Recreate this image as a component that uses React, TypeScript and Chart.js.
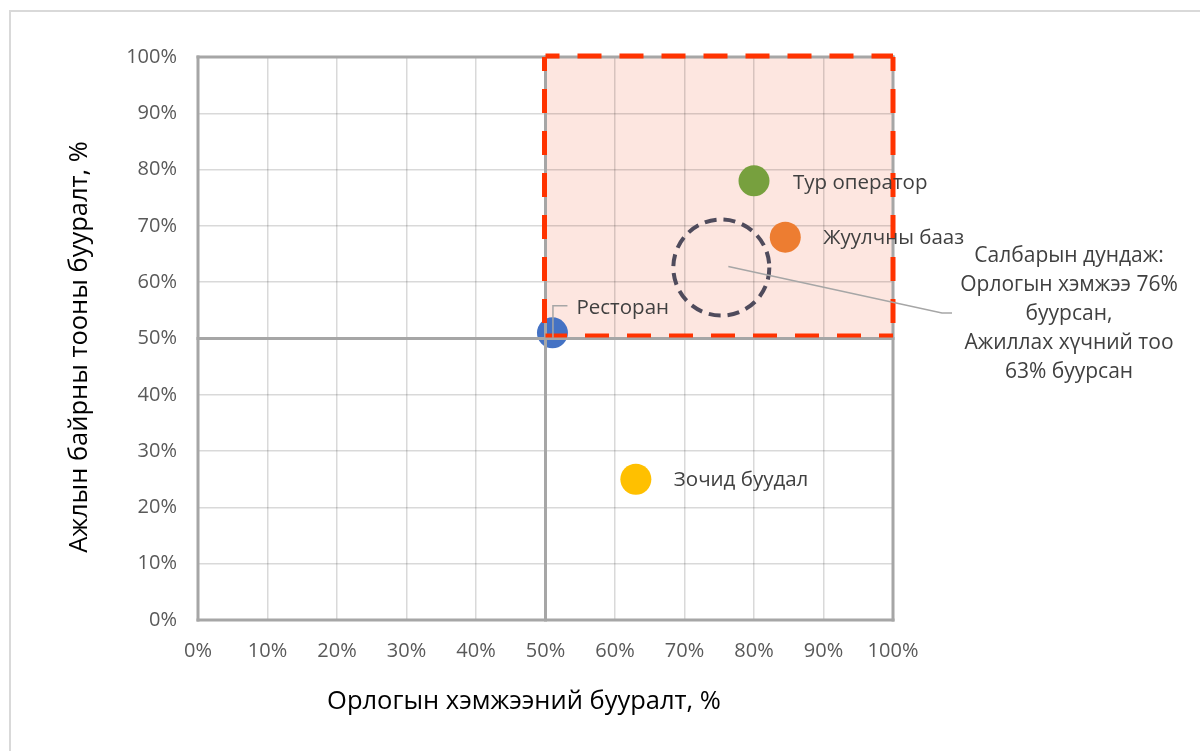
import React, { useEffect, useRef } from 'react';
import { Chart, registerables } from 'chart.js';

Chart.register(...registerables);

// ---- Data ----
const sectors = ['Ресторан', 'Тур оператор', 'Жуулчны бааз', 'Зочид буудал'];
const revenueDrop = [51, 80, 84.5, 63];
const jobsDrop = [51, 78, 68, 25];
const sectorColors = ['#4472c4', '#77a03e', '#ed7d31', '#ffc000'];
const tickValues = [0, 10, 20, 30, 40, 50, 60, 70, 80, 90, 100];
const averagePoint = [75.3, 62.6];
const averageText = ['Салбарын дундаж:', 'Орлогын хэмжээ 76%', 'буурсан,', 'Ажиллах хүчний тоо', '63% буурсан'];
const quadrantX = [50, 100];
const quadrantY = [50, 100];
const dividerValues = [0, 50, 100];
const xTitle = 'Орлогын хэмжээний бууралт, %';
const yTitle = 'Ажлын байрны тооны бууралт, %';

// ---- Styles / positions ----
const FONT = '"Open Sans", "Noto Sans", sans-serif';
const labelOffsets = [
  [24, -25],
  [39, 2],
  [38, 1],
  [38, 1],
];

const overlayPlugin = {
  id: 'overlay',
  beforeDraw(chart: any) {
    const { ctx, scales } = chart;
    const x = scales.x;
    const y = scales.y;
    const x0 = x.getPixelForValue(quadrantX[0]);
    const x1 = x.getPixelForValue(quadrantX[1]);
    const y0 = y.getPixelForValue(quadrantY[0]);
    const y1 = y.getPixelForValue(quadrantY[1]);
    ctx.save();
    ctx.fillStyle = '#fde6e0';
    ctx.fillRect(x0, y1, x1 - x0, y0 - y1);
    ctx.restore();
  },
  afterDatasetsDraw(chart: any) {
    const { ctx, scales, chartArea } = chart;
    const x = scales.x;
    const y = scales.y;
    ctx.save();
    // thick divider lines
    ctx.strokeStyle = '#a6a6a6';
    ctx.lineWidth = 3;
    dividerValues.forEach((v) => {
      const px = x.getPixelForValue(v);
      ctx.beginPath();
      ctx.moveTo(px, chartArea.top - 1.5);
      ctx.lineTo(px, chartArea.bottom + 1.5);
      ctx.stroke();
      const py = y.getPixelForValue(v);
      ctx.beginPath();
      ctx.moveTo(chartArea.left - 1.5, py);
      ctx.lineTo(chartArea.right + 1.5, py);
      ctx.stroke();
    });

    // red dashed quadrant
    const x0 = x.getPixelForValue(quadrantX[0]);
    const x1 = x.getPixelForValue(quadrantX[1]);
    const y0 = y.getPixelForValue(quadrantY[0]);
    const y1 = y.getPixelForValue(quadrantY[1]);
    ctx.strokeStyle = '#ff3300';
    ctx.lineWidth = 5;
    ctx.setLineDash([24, 18]);
    ctx.lineDashOffset = 10;
    ctx.beginPath();
    ctx.moveTo(x0, y1 - 1);
    ctx.lineTo(x1, y1 - 1);
    ctx.stroke();
    ctx.beginPath();
    ctx.moveTo(x1, y1);
    ctx.lineTo(x1, y0);
    ctx.stroke();
    ctx.lineWidth = 4;
    ctx.beginPath();
    ctx.moveTo(x1, y0 - 3);
    ctx.lineTo(x0, y0 - 3);
    ctx.stroke();
    ctx.lineWidth = 5;
    ctx.beginPath();
    ctx.moveTo(x0 - 1, y1);
    ctx.lineTo(x0 - 1, y0);
    ctx.stroke();

    // dashed average circle
    const cx = x.getPixelForValue(averagePoint[0]);
    const cy = y.getPixelForValue(averagePoint[1]);
    ctx.strokeStyle = '#4f4b5c';
    ctx.lineWidth = 4;
    ctx.setLineDash([12, 7]);
    ctx.lineDashOffset = 0;
    ctx.beginPath();
    ctx.arc(cx, cy, 48, 0, Math.PI * 2);
    ctx.stroke();

    // leader line to annotation
    ctx.setLineDash([]);
    ctx.strokeStyle = '#a6a6a6';
    ctx.lineWidth = 1.5;
    ctx.beginPath();
    ctx.moveTo(cx + 7, cy - 1);
    ctx.lineTo(942, 313);
    ctx.lineTo(952, 313);
    ctx.stroke();

    // data labels
    const meta = chart.getDatasetMeta(0);
    ctx.font = `20.5px ${FONT}`;
    ctx.fillStyle = '#404040';
    ctx.textAlign = 'left';
    ctx.textBaseline = 'middle';
    meta.data.forEach((pt: any, i: number) => {
      const [dx, dy] = labelOffsets[i];
      ctx.fillText(sectors[i], pt.x + dx, pt.y + dy);
      if (i === 0) {
        ctx.strokeStyle = '#a6a6a6';
        ctx.lineWidth = 1.5;
        ctx.beginPath();
        ctx.moveTo(pt.x + 0.5, pt.y + 5);
        ctx.lineTo(pt.x + 0.5, pt.y + dy - 2);
        ctx.lineTo(pt.x + 15, pt.y + dy - 2);
        ctx.stroke();
      }
    });
    ctx.restore();
  },
  afterDraw(chart: any) {
    const { ctx } = chart;
    ctx.save();
    // annotation text
    ctx.font = `21px ${FONT}`;
    ctx.fillStyle = '#404040';
    ctx.textAlign = 'center';
    ctx.textBaseline = 'middle';
    averageText.forEach((line, i) => {
      ctx.fillText(line, 1069, 256 + i * 29);
    });
    // axis titles
    ctx.fillStyle = '#000000';
    ctx.font = `25.5px ${FONT}`;
    ctx.fillText(xTitle, 524, 702);
    ctx.translate(80, 347);
    ctx.rotate(-Math.PI / 2);
    ctx.fillText(yTitle, 0, 0);
    ctx.restore();
  },
};

export default function App() {
  const canvasRef = useRef<HTMLCanvasElement | null>(null);

  useEffect(() => {
    const canvas = canvasRef.current;
    if (!canvas) return;
    const chart = new Chart(canvas, {
      type: 'scatter',
      data: {
        datasets: [
          {
            label: 'Салбар',
            data: sectors.map((_, i) => ({ x: revenueDrop[i], y: jobsDrop[i] })),
            backgroundColor: sectorColors,
            borderWidth: 0,
            pointRadius: 15.5,
            pointHoverRadius: 15.5,
          },
        ],
      },
      options: {
        responsive: false,
        animation: false,
        devicePixelRatio: 1,
        layout: { padding: { left: 0, right: 307, top: 57, bottom: 0 } },
        plugins: {
          legend: { display: false },
          tooltip: { enabled: false },
        },
        scales: {
          x: {
            type: 'linear',
            min: tickValues[0],
            max: tickValues[tickValues.length - 1],
            afterBuildTicks: (s: any) => {
              s.ticks = tickValues.map((v) => ({ value: v }));
            },
            afterFit: (s: any) => {
              s.height = 131;
            },
            border: { display: false },
            grid: { color: 'rgba(0,0,0,0.15)', lineWidth: 1.5, drawTicks: false },
            ticks: {
              padding: 19,
              color: '#595959',
              font: { family: FONT, size: 20 },
              callback: (v: any) => `${v}%`,
              maxRotation: 0,
            },
          },
          y: {
            type: 'linear',
            min: tickValues[0],
            max: tickValues[tickValues.length - 1],
            afterBuildTicks: (s: any) => {
              s.ticks = tickValues.map((v) => ({ value: v }));
            },
            afterFit: (s: any) => {
              s.width = 198;
            },
            border: { display: false },
            grid: { color: 'rgba(0,0,0,0.15)', lineWidth: 1.5, drawTicks: false },
            ticks: {
              padding: 21,
              color: '#595959',
              font: { family: FONT, size: 20 },
              callback: (v: any) => `${v}%`,
            },
          },
        },
      },
      plugins: [overlayPlugin],
    } as any);
    return () => chart.destroy();
  }, []);

  return (
    <div style={{ position: 'absolute', left: 0, top: 0, width: 1200, height: 751, overflow: 'hidden', background: '#ffffff' }}>
      <div
        style={{
          position: 'absolute',
          left: 9,
          top: 10,
          width: 1300,
          height: 800,
          borderLeft: '2px solid #d9d9d9',
          borderTop: '2px solid #d9d9d9',
        }}
      />
      <canvas ref={canvasRef} width={1200} height={751} style={{ position: 'absolute', left: 0, top: 0, width: 1200, height: 751 }} />
    </div>
  );
}
